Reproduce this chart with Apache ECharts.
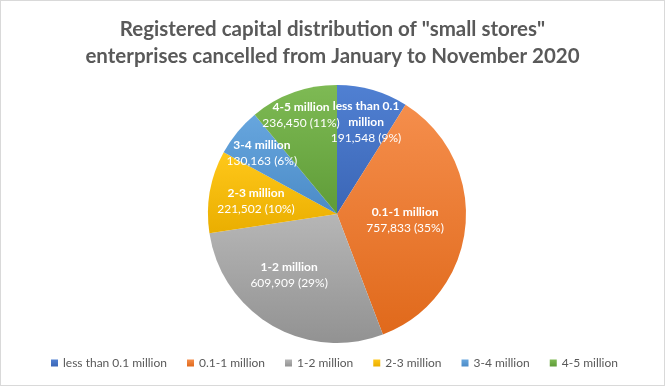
<!DOCTYPE html>
<html><head><meta charset="utf-8">
<script src="https://cdn.jsdelivr.net/npm/echarts@6/dist/echarts.min.js"></script>
<style>html,body{margin:0;padding:0;background:#fff}#c{width:663px;height:384px;border:1px solid #d9d9d9;}</style>
</head><body><div id="c"></div>
<script>
const categories = ['less than 0.1 million','0.1-1 million','1-2 million','2-3 million','3-4 million','4-5 million'];
const values = [191548, 757833, 609909, 221502, 130163, 236450];
const percentLabels = ['9%','35%','29%','10%','6%','11%'];
const labelNames = ['less than 0.1\nmillion','0.1-1 million','1-2 million','2-3 million','3-4 million','4-5 million'];

const baseColors = [['#5080d2','#3b66b6'],['#f58e4c','#e0691b'],['#b6b6b6','#929292'],['#ffc81a','#eaae00'],['#67a6de','#4b8bc7'],['#7eba54','#5f9c38']];
const labelRadiusFactor = [0.75, 0.53, 0.60, 0.636, 0.75, 0.815];
const labelAngleOffset = [1.4, -0.6, 7.9, -0.9, -0.4, -0.2];
const CX = 336, CY = 213, R = 129;

const chart = echarts.init(document.getElementById('c'), null, {renderer:'canvas'});
const fmt = n => n.toLocaleString('en-US');
chart.setOption({
  animation:false,
  title:{text:'Registered capital distribution of "small stores"\nenterprises cancelled from January to November 2020',left:'center',top:10,
    textStyle:{fontFamily:'Lato',fontWeight:'bold',fontSize:20.5,color:'#595959',lineHeight:27}},
  legend:{bottom:11,left:45,itemWidth:7,itemHeight:7,itemGap:20,icon:'rect',
    textStyle:{fontFamily:'Lato',fontSize:12,color:'#595959'}},
  series:[{
    type:'pie', center:[CX,CY], radius:R, startAngle:90, clockwise:true,
    itemStyle:{borderWidth:0},
    data: categories.map((c,i)=>({name:c,value:values[i],
      itemStyle:{color:new echarts.graphic.LinearGradient(0,0,0,1,[{offset:0,color:baseColors[i][0]},{offset:1,color:baseColors[i][1]}])},
      label:{formatter:'{b|'+labelNames[i]+'}\n{v|'+fmt(values[i])+' ('+percentLabels[i]+')}'}})),
    label:{show:true,position:'inside',color:'#fff',fontFamily:'Lato',fontSize:12,lineHeight:16,
      rich:{b:{fontWeight:'bold',color:'#fff',fontSize:12,lineHeight:16,fontFamily:'Lato'},v:{color:'#fff',fontSize:12,lineHeight:16,fontFamily:'Lato'}}},
    labelLine:{show:false},
    emphasis:{disabled:true},
    labelLayout:function(p){
      const r = p.labelRect;
      const mx = r.x + r.width/2, my = r.y + r.height/2;
      const i = p.dataIndex;
      const a = Math.atan2(mx-CX, -(my-CY)) + labelAngleOffset[i]*Math.PI/180;
      const d = labelRadiusFactor[i]*R;
      return {x: CX + d*Math.sin(a), y: CY - d*Math.cos(a)};
    }
  }]
});
</script></body></html>
